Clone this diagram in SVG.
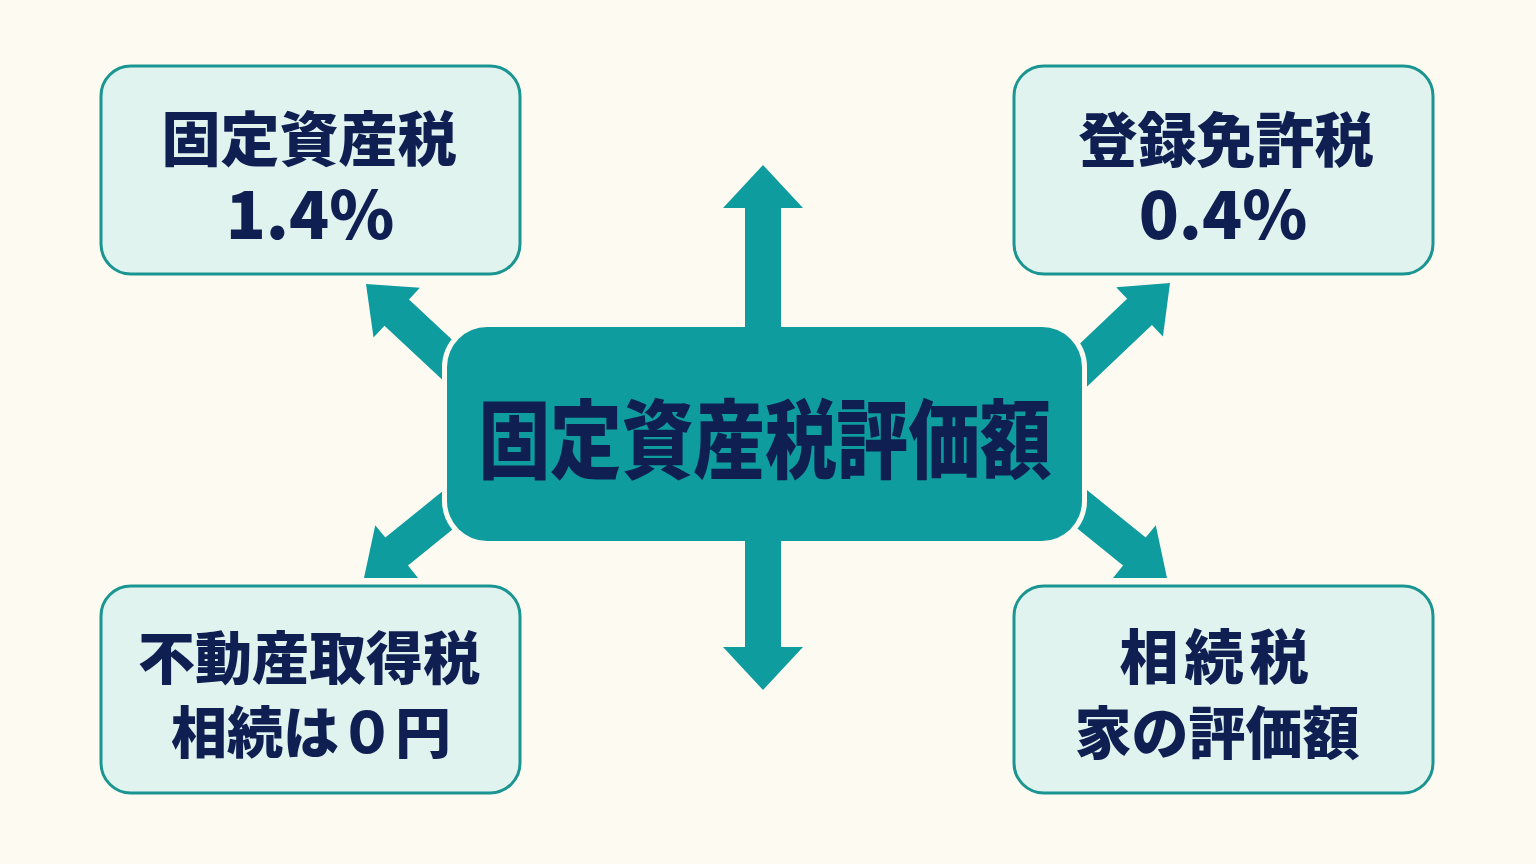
<svg xmlns="http://www.w3.org/2000/svg" width="1536" height="864" viewBox="0 0 1536 864">
<style>
.box{fill:#e1f3ef;stroke:#1b9591;stroke-width:3}
.arw{fill:#0e9c9e}
.t{font-family:"Noto Sans CJK JP","Noto Sans",sans-serif;font-weight:900;fill:#0f1f52;text-anchor:middle}
</style>
<defs>
<polygon id="ad" points="0,0 -42,-34 -42,-18 -160,-18 -160,18 -42,18 -42,34"/>
</defs>
<rect width="1536" height="864" fill="#fdfbf1"/>
<g id="connectors" class="arw">
<use href="#ad" transform="translate(366,284) rotate(-137)"/>
<use href="#ad" transform="translate(1170,283) rotate(-43.5)"/>
<use href="#ad" transform="translate(364,578) rotate(141)"/>
<use href="#ad" transform="translate(1167,578) rotate(39)"/>
</g>
<g id="center">
<rect x="442" y="322" width="645" height="224" rx="45" fill="#fdfbf1"/>
<rect x="447" y="327" width="635" height="214" rx="40" fill="#0e9c9e"/>
<text class="t" x="765" y="472" font-size="86" textLength="573" lengthAdjust="spacingAndGlyphs">固定資産税評価額</text>
</g>
<g id="connectors-vertical" class="arw">
<polygon points="763,165 803,208 781,208 781,332 745,332 745,208 723,208"/>
<polygon points="763,690 803,647 781,647 781,536 745,536 745,647 723,647"/>
</g>
<g id="node-tl">
<rect class="box" x="101" y="66" width="419" height="208" rx="30"/>
<text class="t" x="309" y="161" font-size="59">固定資産税</text>
<text class="t" x="310" y="239" font-size="66">1.4%</text>
</g>
<g id="node-tr">
<rect class="box" x="1014" y="66" width="419" height="208" rx="30"/>
<text class="t" x="1226" y="162" font-size="59">登録免許税</text>
<text class="t" x="1223" y="239" font-size="66">0.4%</text>
</g>
<g id="node-bl">
<rect class="box" x="101" y="586" width="419" height="207" rx="30"/>
<text class="t" x="309" y="679" font-size="57">不動産取得税</text>
<text class="t" x="311" y="753" font-size="56">相続は０円</text>
</g>
<g id="node-br">
<rect class="box" x="1014" y="586" width="419" height="207" rx="30"/>
<text class="t" x="1217" y="679" font-size="59" letter-spacing="6">相続税</text>
<text class="t" x="1217" y="754" font-size="57">家の評価額</text>
</g>
</svg>
